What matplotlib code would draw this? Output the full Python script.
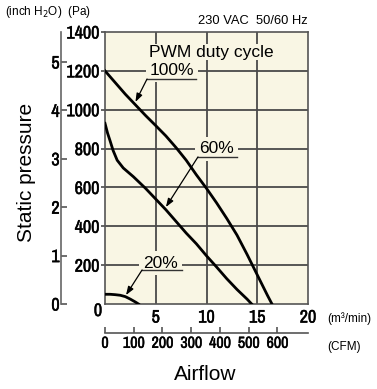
import matplotlib
matplotlib.use("Agg")
import matplotlib.pyplot as plt
from matplotlib import font_manager
import matplotlib.patheffects as pe

# data (airflow m3/min, static pressure Pa)
flow_100 = [0, 1, 2, 3, 4, 5, 6, 7, 8, 9, 10, 11, 12, 13, 14, 15, 16, 16.45]
pres_100 = [1200, 1140, 1080, 1025, 970, 918, 865, 805, 740, 665, 595, 520, 440, 355, 255, 150, 45, 0]

flow_60 = [0, 0.25, 0.5, 0.8, 1.2, 1.8, 2.8, 4, 5, 6, 7, 8, 9, 10, 11, 12, 13, 14, 14.45]
pres_60 = [930, 880, 840, 790, 740, 700, 655, 595, 540, 485, 425, 365, 310, 248, 190, 130, 75, 25, 0]

flow_20 = [0, 0.5, 1, 1.5, 2, 2.5, 3, 3.3]
pres_20 = [50, 50, 48, 45, 38, 25, 10, 0]

x_ticks = [5, 10, 15, 20]
pa_ticks = [200, 400, 600, 800, 1000, 1200, 1400]
inch_ticks = [0, 1, 2, 3, 4, 5]
cfm_ticks = [0, 100, 200, 300, 400, 500, 600]

PA_PER_INCH = 249.09
CFM_PER_M3 = 35.315

plt.rcParams['font.family'] = ["Liberation Sans", "DejaVu Sans"]

# condensed face for the numbers (upright only)
narrow_file = None
upright = [f for f in font_manager.fontManager.ttflist
           if 'italic' not in f.fname.lower() and 'oblique' not in f.fname.lower()]
for key in ["archivonarrow", "liberationsansnarrow-regular", "dejavusanscondensed.ttf"]:
    for f in upright:
        if key in f.fname.lower().replace(" ", "").replace("_", ""):
            narrow_file = f.fname
            break
    if narrow_file:
        break

W, H = 377, 389
cream = "#f9f6e4"
grid_c = "#4a4a4a"
bolder = [pe.withStroke(linewidth=0.35, foreground="black")]


def fx(px):
    return px / W


def fy(py):
    return 1 - py / H


def numfont(size):
    if narrow_file:
        return font_manager.FontProperties(fname=narrow_file, size=size)
    return font_manager.FontProperties(family="Liberation Sans", size=size * 0.85)


def style_nums(labels, size):
    for lab in labels:
        lab.set_fontproperties(numfont(size))
        lab.set_path_effects(bolder)


fig = plt.figure(figsize=(W / 100, H / 100), dpi=100)

# main plot area: x 105..308, y 32..304 px
ax = fig.add_axes([fx(105), fy(304), (308 - 105) / W, (304 - 32) / H])
ax.set_facecolor(cream)
ax.set_xlim(0, 20)
ax.set_ylim(0, 1400)
ax.set_xticks(x_ticks)
ax.set_yticks(pa_ticks)
for v in x_ticks[:-1]:
    ax.plot([v, v], [0, 1400], color=grid_c, lw=1.3, zorder=2)
for v in pa_ticks[:-1]:
    ax.plot([0, 20], [v, v], color=grid_c, lw=1.3, zorder=2)
for s in ax.spines.values():
    s.set_color("#555555")
    s.set_linewidth(1.2)
ax.tick_params(axis='x', length=0, pad=4)
ax.tick_params(axis='y', length=3, width=1.2, color=grid_c, pad=1)
style_nums(ax.get_xticklabels() + ax.get_yticklabels(), 13)

ax.plot(flow_100, pres_100, color="black", lw=2.0, zorder=3)
ax.plot(flow_60, pres_60, color="black", lw=2.0, zorder=3)
ax.plot(flow_20, pres_20, color="black", lw=2.0, zorder=3)

# shared zero label
fig.text(fx(98), fy(311), "0", ha="center", va="center", fontproperties=numfont(13),
         path_effects=bolder)

ax.text(10.45, 1297, "PWM duty cycle", ha="center", va="center", fontsize=12.5, zorder=4,
        bbox=dict(facecolor=cream, edgecolor="none", pad=0.5))

# labels with underline and leader arrow
labels = [
    ("100%", 6.6, 1204, 4.14, 8.97, 1158, (3.0, 1040)),
    ("60%", 11.0, 798, 9.16, 13.0, 757, (6.0, 499)),
    ("20%", 5.5, 211, 3.65, 7.6, 175, (2.07, 46)),
]
for txt, tx, ty, u0, u1, uy, tip in labels:
    ax.text(tx, ty, txt, ha="center", va="center", fontsize=12.5, zorder=4,
            bbox=dict(facecolor=cream, edgecolor="none", pad=3))
    ax.plot([u0, u1], [uy, uy], color="#333333", lw=1.0, zorder=5)
    ax.annotate("", xy=tip, xytext=(u0, uy), zorder=5,
                arrowprops=dict(arrowstyle="-|>,head_length=0.5,head_width=0.18",
                                color="black", lw=0.9, shrinkA=0, shrinkB=0))

# inch H2O axis
ax_in = fig.add_axes([fx(61), fy(304), 0.001, (304 - 32) / H])
ax_in.set_ylim(0, 1400 / PA_PER_INCH)
ax_in.set_yticks(inch_ticks)
ax_in.set_xticks([])
ax_in.patch.set_visible(False)
for k in ["top", "right", "bottom"]:
    ax_in.spines[k].set_visible(False)
ax_in.spines["left"].set_color("#666666")
ax_in.spines["left"].set_linewidth(1.2)
ax_in.tick_params(axis='y', direction='in', length=4.5, width=1.2, color="#555555", pad=1)
style_nums(ax_in.get_yticklabels(), 13)

# CFM axis
ax_cfm = fig.add_axes([fx(105), fy(333), (308 - 105) / W, 0.001])
ax_cfm.set_xlim(0, 20 * CFM_PER_M3)
ax_cfm.set_xticks(cfm_ticks)
ax_cfm.set_yticks([])
ax_cfm.patch.set_visible(False)
for k in ["top", "right", "left"]:
    ax_cfm.spines[k].set_visible(False)
ax_cfm.spines["bottom"].set_color("#555555")
ax_cfm.spines["bottom"].set_linewidth(1.2)
ax_cfm.tick_params(axis='x', direction='in', length=4, width=1.2, color="#555555", pad=2)
style_nums(ax_cfm.get_xticklabels(), 11.5)

# unit / title texts
fig.text(fx(5), fy(12), "(inch H$_2$O)  (Pa)", ha="left", va="center", fontsize=8.5)
fig.text(fx(308), fy(21), "230 VAC  50/60 Hz", ha="right", va="center", fontsize=9.3)
fig.text(fx(327), fy(319), "(m³/min)", ha="left", va="center", fontsize=8.5)
fig.text(fx(327), fy(347), "(CFM)", ha="left", va="center", fontsize=8.5)
fig.text(fx(205), fy(374), "Airflow", ha="center", va="center", fontsize=15)
fig.text(fx(27), fy(172), "Static pressure", ha="center", va="center", fontsize=15, rotation=90)

fig.savefig("out.png", dpi=100)
